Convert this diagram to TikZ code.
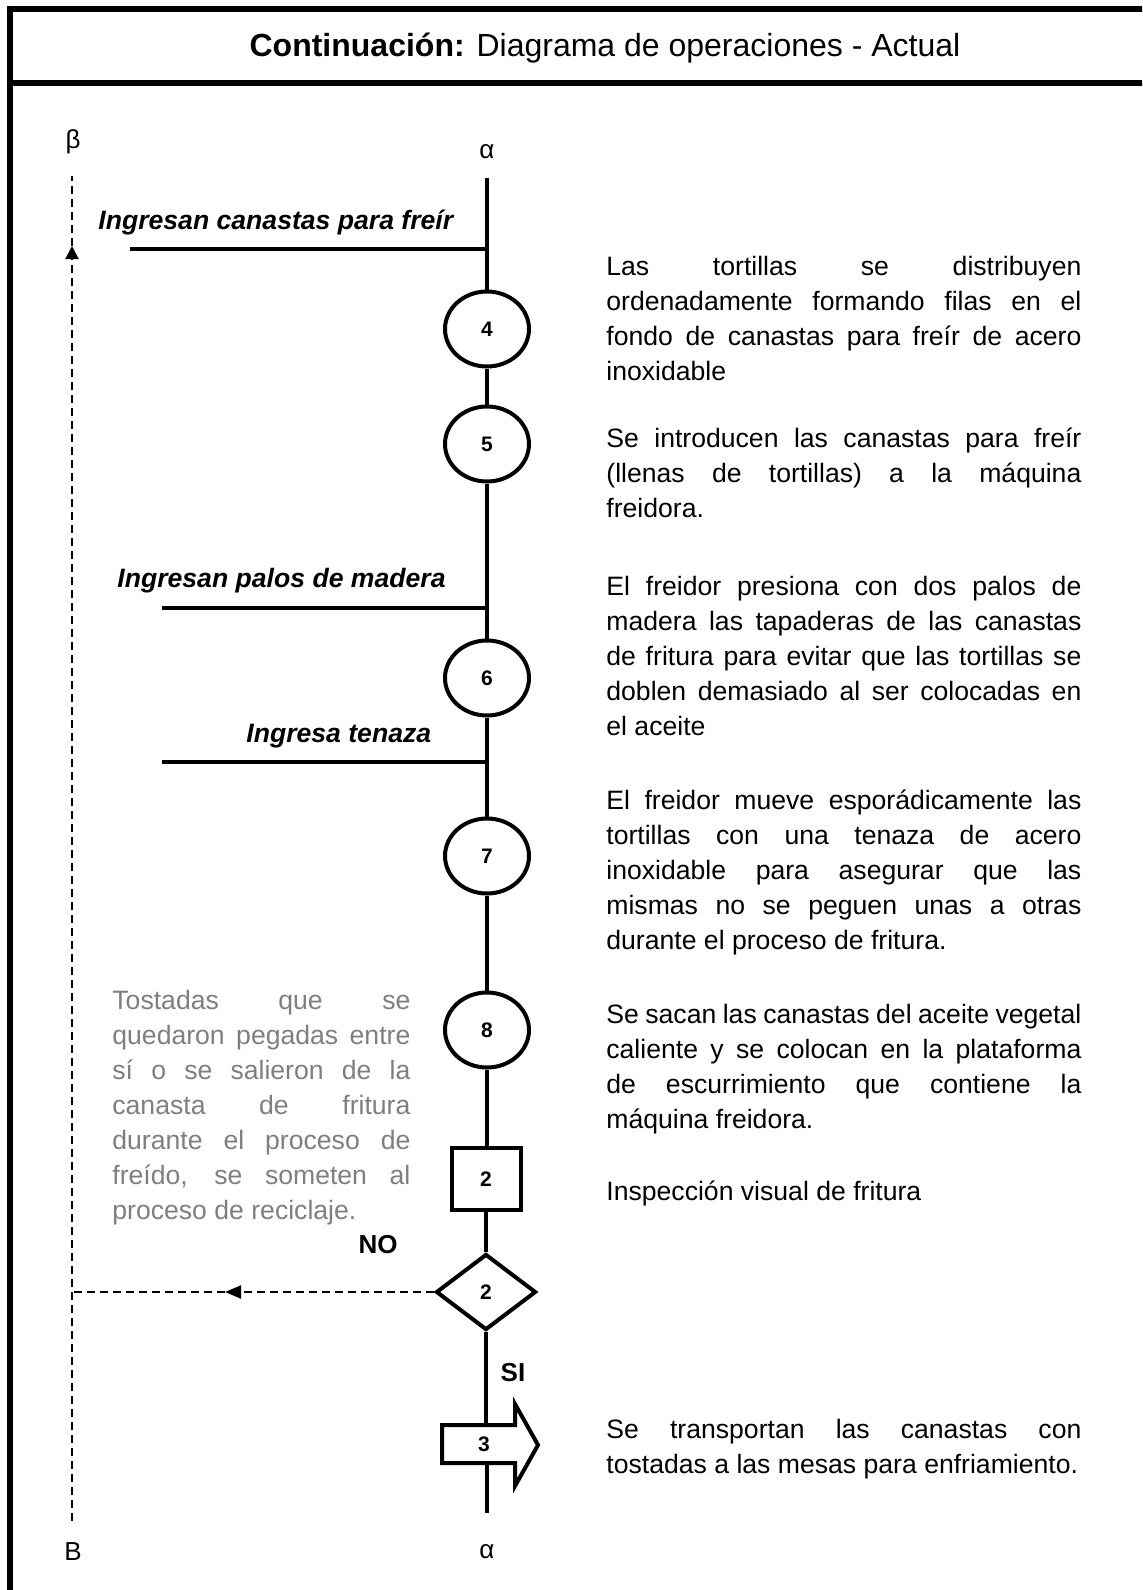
\documentclass[tikz,border=0pt]{standalone}
\usepackage{fontspec}
\setmainfont{Liberation Sans}
\usetikzlibrary{shapes.geometric,arrows.meta}
\definecolor{graytext}{HTML}{7F7F7F}
\newcommand{\jl}[1]{\makebox[237.5pt][s]{#1}}
\newcommand{\jg}[1]{\makebox[149pt][s]{#1}}
\begin{document}
\begin{tikzpicture}[x=0.5pt,y=-0.5pt,
  flowline/.style={line width=2pt},
  numfont/.style={font=\bfseries\fontsize{10.5}{11}\selectfont},
  opnode/.style={ellipse, draw, line width=2pt, minimum width=42pt, minimum height=37.5pt, inner sep=0pt, numfont},
  inspnode/.style={rectangle, draw, line width=2pt, minimum width=34.5pt, minimum height=31pt, inner sep=0pt, numfont},
  decnode/.style={diamond, draw, line width=2pt, minimum width=50pt, minimum height=38pt, inner sep=0pt, numfont},
  dashline/.style={line width=1pt, dash pattern=on 4pt off 2.5pt},
  bodytext/.style={font=\fontsize{13.3}{17.5}\selectfont, anchor=base west, inner sep=0pt, align=left},
  inlabel/.style={font=\bfseries\itshape\fontsize{13.3}{16}\selectfont, anchor=base west, inner sep=0pt},
  greek/.style={font=\fontsize{13}{15}\selectfont, inner sep=0pt, anchor=base},
  yesno/.style={font=\bfseries\fontsize{13}{15}\selectfont, inner sep=0pt, anchor=base}]
\useasboundingbox (0,0) rectangle (1142,1590);
\clip (0,0) rectangle (1142,1590);
\fill[white] (0,0) rectangle (1142,1590);
% frame
\draw[line width=3pt] (10,9) rectangle (1170,1620);
\draw[line width=3pt] (10,83) -- (1170,83);
\node[font=\fontsize{16}{19}\selectfont, anchor=base, inner sep=0pt] (title) at (605,56) {\textbf{Continuación:} Diagrama de operaciones - Actual};
% greek labels
\node[greek] (beta) at (73,148) {β};
\node[greek] (alphatop) at (487,158) {α};
\node[greek] (bbig) at (73,1560) {B};
\node[greek] (alphabot) at (487,1558) {α};
% shapes
\node[opnode] (c4) at (487,329) {4};
\node[opnode] (c5) at (487,444) {5};
\node[opnode] (c6) at (487,678) {6};
\node[opnode] (c7) at (487,856) {7};
\node[opnode] (c8) at (487,1030) {8};
\node[inspnode] (s2) at (486,1179) {2};
\node[decnode] (d2) at (486,1292) {2};
\node[rectangle, minimum width=30pt, minimum height=19pt, inner sep=0pt, numfont] (t3) at (484,1444) {3};
\draw[line width=2pt, miter limit=10] (442,1425) -- (515,1425) -- (515,1404) -- (538,1445) -- (515,1486) -- (515,1463) -- (442,1463) -- cycle;
% main flow
\coordinate (top) at (487,178);
\coordinate (bot) at (487,1513);
\draw[flowline] (top) -- (c4.north);
\draw[flowline] (c4.south) -- (c5.north);
\draw[flowline] (c5.south) -- (c6.north);
\draw[flowline] (c6.south) -- (c7.north);
\draw[flowline] (c7.south) -- (c8.north);
\draw[flowline] (c8.south) -- (c8.south |- s2.north);
\draw[flowline] (s2.south -| d2.north) -- (d2.north);
\draw[flowline] (d2.south) -- (d2.south |- t3.north);
\draw[flowline] (bot |- t3.south) -- (bot);
% inputs
\coordinate (in1) at (130,249);
\coordinate (in2) at (162,608);
\coordinate (in3) at (162,762);
\draw[flowline] (in1) -- (in1 -| top);
\draw[flowline] (in2) -- (in2 -| top);
\draw[flowline] (in3) -- (in3 -| top);
\node[inlabel] (l1) at (98,229) {Ingresan canastas para freír};
\node[inlabel] (l2) at (117,587) {Ingresan palos de madera};
\node[inlabel] (l3) at (246,742) {Ingresa tenaza};
% return loop
\coordinate (bbot) at (72,1521);
\coordinate (barr) at (72,246);
\coordinate (btop) at (72,176);
\coordinate (narr) at (225,1292);
\coordinate (nleft) at (72,1292);
\draw[dashline,-{Triangle[length=6.5pt,width=6.5pt]}] (bbot) -- (barr);
\draw[dashline] (barr) -- (btop);
\draw[dashline,-{Triangle[length=8pt,width=6.5pt]}] (d2.west) -- (narr);
\draw[dashline] (narr) -- (nleft);
\node[yesno] (no) at (378,1253) {NO};
\node[yesno] (si) at (513,1381) {SI};
% descriptions (base anchor = last line baseline)
\node[bodytext] (p1) at (606,380) {\jl{Las tortillas se distribuyen}\\\jl{ordenadamente formando filas en el}\\\jl{fondo de canastas para freír de acero}\\inoxidable};
\node[bodytext] (p2) at (606,517) {\jl{Se introducen las canastas para freír}\\\jl{(llenas de tortillas) a la máquina}\\freidora.};
\node[bodytext] (p3) at (606,735) {\jl{El freidor presiona con dos palos de}\\\jl{madera las tapaderas de las canastas}\\\jl{de fritura para evitar que las tortillas se}\\\jl{doblen demasiado al ser colocadas en}\\el aceite};
\node[bodytext] (p4) at (606,949) {\jl{El freidor mueve esporádicamente las}\\\jl{tortillas con una tenaza de acero}\\\jl{inoxidable para asegurar que las}\\\jl{mismas no se peguen unas a otras}\\durante el proceso de fritura.};
\node[bodytext] (p5) at (606,1128) {\jl{Se sacan las canastas del aceite vegetal}\\\jl{caliente y se colocan en la plataforma}\\\jl{de escurrimiento que contiene la}\\máquina freidora.};
\node[bodytext] (p6) at (606,1200) {Inspección visual de fritura};
\node[bodytext] (p7) at (606,1473) {\jl{Se transportan las canastas con}\\tostadas a las mesas para enfriamiento.};
\node[bodytext, text=graytext] (pg) at (112,1219) {\jg{Tostadas que se}\\\jg{quedaron pegadas entre}\\\jg{sí o se salieron de la}\\\jg{canasta de fritura}\\\jg{durante el proceso de}\\\jg{freído, se someten al}\\proceso de reciclaje.};
\end{tikzpicture}
\end{document}
